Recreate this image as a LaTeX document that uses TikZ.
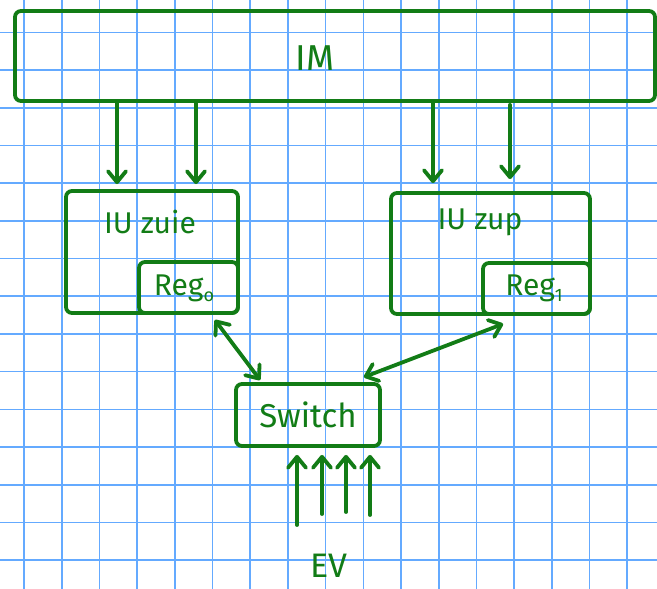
\documentclass[tikz,border=0pt]{standalone}
\usepackage{fontspec}
\setmainfont{Fira Sans}
\usetikzlibrary{arrows.meta,calc}
\definecolor{ink}{RGB}{18,124,22}
\definecolor{gridblue}{RGB}{100,170,255}
\tikzset{
  gridline/.style={draw=gridblue,line width=1.6pt},
  box/.style={draw=ink,line width=3.8pt,rectangle,rounded corners=6pt,inner sep=0pt},
  lbl/.style={text=ink,inner sep=0pt},
  arr/.style={draw=ink,line width=3.8pt,line cap=round,-{Straight Barb[length=11pt,width=18pt,round]}},
  dbl/.style={draw=ink,line width=3.8pt,line cap=round,{Straight Barb[length=11pt,width=18pt,round]}-{Straight Barb[length=11pt,width=18pt,round]}}
}
\newcommand{\subidx}[1]{\raisebox{-6pt}{\fontsize{18}{18}\selectfont #1}}
\begin{document}
\begin{tikzpicture}[x=1pt,y=-1pt]
\useasboundingbox (0,0) rectangle (657,589);
\fill[white] (0,0) rectangle (657,589);
% grid paper
\foreach \i in {0,...,16} \draw[gridline] ({24+37.7*\i},0) -- ({24+37.7*\i},589);
\foreach \j in {0,...,14} \draw[gridline] (0,{32.3+37.7*\j}) -- (657,{32.3+37.7*\j});
% boxes
\node[box,minimum width=640pt,minimum height=90pt] (IM) at (335,56) {};
\node[box,minimum width=172pt,minimum height=122pt] (iuL) at (152,252) {};
\node[box,minimum width=99pt,minimum height=51pt] (reg0) at (188.5,287.5) {};
\node[box,minimum width=199pt,minimum height=121pt] (iuR) at (490.5,253.5) {};
\node[box,minimum width=107pt,minimum height=51pt] (reg1) at (536.5,288.5) {};
\node[box,minimum width=144pt,minimum height=62pt] (sw) at (308,415) {};
% labels
\node[lbl,font=\fontsize{36}{36}\selectfont] (tIM) at (315,58) {IM};
\node[lbl,font=\fontsize{30}{30}\selectfont] (tL) at (150,222) {IU zuie};
\node[lbl,font=\fontsize{30}{30}\selectfont] (tR) at (480,222) {IU zup};
\node[lbl,font=\fontsize{30}{30}\selectfont] (tr0) at (184,288) {Reg\subidx{o}};
\node[lbl,font=\fontsize{30}{30}\selectfont] (tr1) at (534,288) {Reg\subidx{1}};
\node[lbl,font=\fontsize{33}{33}\selectfont] (tsw) at (308,415) {Switch};
\node[lbl,font=\fontsize{34}{34}\selectfont] (EV) at (329,566) {EV};
% x positions of arrows
\coordinate (xa) at (117,0);
\coordinate (xb) at (196,0);
\coordinate (xc) at (433,0);
\coordinate (xd) at (510,0);
\draw[arr,shorten >=5pt] (IM.south -| xa) -- (iuL.north -| xa);
\draw[arr,shorten >=5pt] (IM.south -| xb) -- (iuL.north -| xb);
\draw[arr,shorten >=8pt] (IM.south -| xc) -- (iuR.north -| xc);
\draw[arr,shorten >=12pt] ([yshift=-2pt]IM.south -| xd) -- (iuR.north -| xd);
% register <-> switch
\draw[dbl] ([xshift=-25pt,yshift=-5pt]reg0.south east) -- ([xshift=26pt,yshift=2pt]sw.north west);
\draw[dbl] ([xshift=-18pt,yshift=5pt]sw.north east) -- ([xshift=22pt,yshift=-8pt]reg1.south west);
% EV inputs
\coordinate (e1) at (297,525);
\coordinate (e2) at (322,514);
\coordinate (e3) at (346,512);
\coordinate (e4) at (370,515);
\foreach \e in {e1,e2,e3,e4} \draw[arr,shorten >=7pt] (\e) -- (sw.south -| \e);
\end{tikzpicture}
\end{document}
